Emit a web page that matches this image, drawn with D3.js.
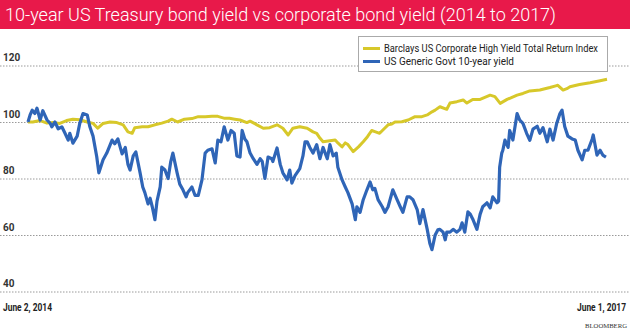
<!DOCTYPE html>
<html>
<head>
<meta charset="utf-8">
<script src="https://cdn.jsdelivr.net/npm/d3@7"></script>
<style>
  html, body { margin: 0; padding: 0; background: #fff; }
  svg { display: block; }
</style>
</head>
<body>
<svg id="chart" width="634" height="333"></svg>
<script>
// ---------- DATA ----------
const titleText = "10-year US Treasury bond yield vs corporate bond yield (2014 to 2017)";
const seriesNames = ["Barclays US Corporate High Yield Total Return Index", "US Generic Govt 10-year yield"];
const yTicks = [40, 60, 80, 100, 120];
const startLabel = "June 2, 2014";
const endLabel = "June 1, 2017";
const sourceLabel = "BLOOMBERG";

const corpDates = ["2014-06-02","2014-06-11","2014-06-25","2014-07-08","2014-07-19","2014-08-01","2014-08-14","2014-08-26","2014-09-08","2014-09-22","2014-10-03","2014-10-12","2014-10-22","2014-11-04","2014-11-17","2014-11-29","2014-12-08","2014-12-16","2014-12-21","2015-01-04","2015-01-15","2015-01-28","2015-02-10","2015-02-22","2015-03-01","2015-03-12","2015-03-25","2015-04-08","2015-04-20","2015-05-03","2015-05-16","2015-05-27","2015-06-09","2015-06-18","2015-06-28","2015-07-08","2015-07-21","2015-07-27","2015-08-09","2015-08-21","2015-09-02","2015-09-16","2015-09-27","2015-10-07","2015-10-16","2015-10-29","2015-11-12","2015-11-23","2015-11-30","2015-12-06","2015-12-12","2015-12-25","2016-01-04","2016-01-09","2016-01-17","2016-01-23","2016-01-28","2016-02-07","2016-02-17","2016-02-26","2016-03-05","2016-03-13","2016-03-19","2016-03-28","2016-04-07","2016-04-13","2016-04-20","2016-04-26","2016-05-09","2016-05-21","2016-06-03","2016-06-16","2016-06-26","2016-07-05","2016-07-11","2016-07-20","2016-08-02","2016-08-08","2016-08-21","2016-09-02","2016-09-09","2016-09-20","2016-10-04","2016-10-23","2016-11-01","2016-11-11","2016-11-24","2016-12-13","2016-12-24","2017-01-06","2017-01-25","2017-02-13","2017-02-24","2017-02-28","2017-03-10","2017-03-17","2017-03-23","2017-04-10","2017-04-30","2017-05-19","2017-06-01"];
const corpValues = [100,100,100.5,99.6,99.8,99.5,100.5,101,100.8,100,99.5,97.8,99.5,100,99.8,99,96.5,96,98,98.3,98.3,99,99.6,100.3,101,100,101,101.2,101.9,101.9,102,102,101.3,101.3,101,100.7,99.8,100.3,99,97.8,98,99,97.8,95.4,97.8,98.3,97.8,96.5,96,94.3,93,93.4,93.6,92.6,91.2,92.6,92,89.5,91.2,93,94.8,97,96.6,96,97.9,99,99.3,100,100.1,100.7,101.9,101.9,102.5,103.6,104.2,105.4,104.5,106.7,107.2,107.8,106.7,108,108,109.5,109,106.6,108,109.5,110.1,111,111.3,112.2,112.8,113,111.3,111.8,112.5,113.3,113.9,114.6,115.1];

const govtDates = ["2014-06-02","2014-06-06","2014-06-10","2014-06-15","2014-06-19","2014-06-25","2014-06-30","2014-07-08","2014-07-14","2014-07-17","2014-07-23","2014-07-29","2014-08-05","2014-08-11","2014-08-17","2014-08-20","2014-08-26","2014-09-03","2014-09-08","2014-09-14","2014-09-22","2014-09-27","2014-10-03","2014-10-10","2014-10-14","2014-10-22","2014-10-29","2014-11-08","2014-11-13","2014-11-19","2014-11-27","2014-12-03","2014-12-08","2014-12-12","2014-12-18","2014-12-23","2014-12-31","2015-01-05","2015-01-09","2015-01-15","2015-01-19","2015-01-23","2015-01-28","2015-02-01","2015-02-07","2015-02-10","2015-02-16","2015-02-22","2015-02-27","2015-03-03","2015-03-11","2015-03-16","2015-03-22","2015-03-28","2015-03-31","2015-04-08","2015-04-14","2015-04-20","2015-04-27","2015-05-03","2015-05-08","2015-05-16","2015-05-22","2015-05-27","2015-06-02","2015-06-08","2015-06-15","2015-06-21","2015-06-27","2015-07-02","2015-07-08","2015-07-12","2015-07-17","2015-07-21","2015-07-27","2015-08-02","2015-08-09","2015-08-15","2015-08-19","2015-08-24","2015-08-30","2015-09-06","2015-09-08","2015-09-16","2015-09-22","2015-09-27","2015-10-05","2015-10-10","2015-10-14","2015-10-20","2015-10-29","2015-11-04","2015-11-08","2015-11-12","2015-11-17","2015-11-23","2015-11-30","2015-12-06","2015-12-12","2015-12-20","2015-12-25","2015-12-31","2016-01-06","2016-01-09","2016-01-17","2016-01-23","2016-01-28","2016-02-05","2016-02-11","2016-02-14","2016-02-20","2016-02-26","2016-03-04","2016-03-10","2016-03-15","2016-03-19","2016-03-25","2016-04-02","2016-04-07","2016-04-13","2016-04-22","2016-04-30","2016-05-06","2016-05-11","2016-05-19","2016-05-24","2016-05-30","2016-06-07","2016-06-12","2016-06-18","2016-06-26","2016-07-01","2016-07-05","2016-07-11","2016-07-16","2016-07-20","2016-07-26","2016-07-30","2016-08-02","2016-08-08","2016-08-14","2016-08-21","2016-08-27","2016-08-31","2016-09-05","2016-09-11","2016-09-15","2016-09-20","2016-09-28","2016-10-04","2016-10-09","2016-10-17","2016-10-23","2016-10-28","2016-11-05","2016-11-08","2016-11-10","2016-11-14","2016-11-16","2016-11-20","2016-11-26","2016-11-29","2016-12-05","2016-12-13","2016-12-18","2016-12-24","2016-12-31","2017-01-06","2017-01-12","2017-01-20","2017-01-25","2017-01-31","2017-02-08","2017-02-13","2017-02-19","2017-02-26","2017-03-04","2017-03-08","2017-03-13","2017-03-19","2017-03-27","2017-04-02","2017-04-07","2017-04-15","2017-04-20","2017-04-26","2017-05-04","2017-05-06","2017-05-13","2017-05-19","2017-05-24","2017-05-30"];
const govtValues = [100,102.5,104.2,103,104.9,100.7,104,100.7,99.5,98.3,100,97.6,98.3,96,93.6,96,92.5,95,99.6,103,102.5,98.3,95,87.7,82,86.6,89,93.6,92.3,94,88.7,91,85,83,88,89.4,82,77,75,71,73,70,65.4,72,77,84,83,80,86,89,82,78,76,73.5,75,77,74,74,79.5,89,90,90.5,85.5,93.6,93,98.3,93.6,97,96,88,87.6,97,94,93,89,87,85,87,86,80,87.6,87,86,90.8,85,82,79.5,83,78.4,81,83.5,88,93,93,91,89,92,87,91,87,92,88,89,84,79.5,77,75,71,65.4,70,68,72.5,76,78.8,76,76.5,72.5,70,68,70,76,72.5,70,68,73.5,73.5,72.5,69,64,69,62,57,54.8,60,61.8,62,61,58.3,61,61,62,61,62,64.3,61,68.2,67.5,65.7,62,67.3,70,71.4,69.6,73.5,71.4,72,84,89,90,93.6,91,97,93.6,103,100.7,99.5,96,93.5,97.5,98.5,96,98,93,97.5,93.6,99.6,103,104.2,98.4,95,94,93.6,90,86.6,90,90,94,95.4,88.3,90,88.3,87.6];

// ---------- CHART ----------
const svg = d3.select("#chart");
const parse = d3.timeParse("%Y-%m-%d");

const x = d3.scaleTime()
  .domain([parse("2014-06-02"), parse("2017-06-01")])
  .range([28, 607]);
const y = d3.scaleLinear().domain([40, 120]).range([291.5, 65.5]);

// title bar
svg.append("rect").attr("x", 0).attr("y", 0).attr("width", 630).attr("height", 29)
  .attr("fill", "#e8194a");
svg.append("text").attr("x", 5).attr("y", 21)
  .attr("fill", "#fff")
  .attr("font-family", "Roboto, 'Open Sans', sans-serif")
  .attr("font-weight", 300)
  .attr("font-size", 19)
  .attr("textLength", 551)
  .attr("lengthAdjust", "spacingAndGlyphs")
  .text(titleText);

// grid + y labels via axis
const yAxis = d3.axisLeft(y).tickValues(yTicks).tickSize(-630).tickFormat(d3.format("d"));
const gAxis = svg.append("g").call(yAxis);
gAxis.select(".domain").remove();
gAxis.selectAll(".tick line")
  .attr("stroke", "#9a9a9a")
  .attr("stroke-width", 1)
  .attr("stroke-dasharray", "1.5,1.5");
gAxis.selectAll(".tick text")
  .attr("x", 3).attr("dy", -5)
  .attr("text-anchor", "start")
  .attr("fill", "#333")
  .attr("font-family", "Roboto, sans-serif")
  .attr("font-weight", 700)
  .attr("font-size", 10);

// lines
const line = d3.line()
  .x(d => x(d[0]))
  .y(d => y(d[1]))
  .curve(d3.curveLinear);

const corpData = corpDates.map((d, i) => [parse(d), corpValues[i]]);
const govtData = govtDates.map((d, i) => [parse(d), govtValues[i]]);

svg.append("path").datum(corpData)
  .attr("d", line).attr("fill", "none")
  .attr("stroke", "#d7c82a").attr("stroke-width", 3)
  .attr("stroke-linejoin", "round");

svg.append("path").datum(govtData)
  .attr("d", line).attr("fill", "none")
  .attr("stroke", "#2f65b7").attr("stroke-width", 3.2)
  .attr("stroke-linejoin", "round");

// legend
const lg = svg.append("g");
lg.append("rect").attr("x", 358.5).attr("y", 36.5).attr("width", 249).attr("height", 35)
  .attr("fill", "#fff").attr("stroke", "#aaa").attr("stroke-width", 1);
const legColors = ["#d7c82a", "#2f65b7"];
const legLengths = [214, 130];
seriesNames.forEach((name, i) => {
  const yy = 48.5 + i * 13;
  lg.append("line").attr("x1", 363).attr("x2", 380).attr("y1", yy).attr("y2", yy)
    .attr("stroke", legColors[i]).attr("stroke-width", 3);
  lg.append("text").attr("x", 384).attr("y", yy + 3.5)
    .attr("fill", "#222")
    .attr("font-family", "Roboto, sans-serif")
    .attr("font-size", 10)
    .attr("textLength", legLengths[i])
    .attr("lengthAdjust", "spacingAndGlyphs")
    .text(name);
});

// bottom labels
svg.append("text").attr("x", 3).attr("y", 311)
  .attr("fill", "#222").attr("font-family", "Roboto, sans-serif")
  .attr("font-weight", 700).attr("font-size", 10)
  .attr("textLength", 49).attr("lengthAdjust", "spacingAndGlyphs")
  .text(startLabel);
svg.append("text").attr("x", 577).attr("y", 311)
  .attr("fill", "#222").attr("font-family", "Roboto, sans-serif")
  .attr("font-weight", 700).attr("font-size", 10)
  .attr("textLength", 49).attr("lengthAdjust", "spacingAndGlyphs")
  .text(endLabel);
svg.append("text").attr("x", 585).attr("y", 328)
  .attr("fill", "#333").attr("font-family", "'Liberation Serif', serif")
  .attr("font-size", 6)
  .attr("textLength", 42).attr("lengthAdjust", "spacingAndGlyphs")
  .text(sourceLabel);
</script>
</body>
</html>
